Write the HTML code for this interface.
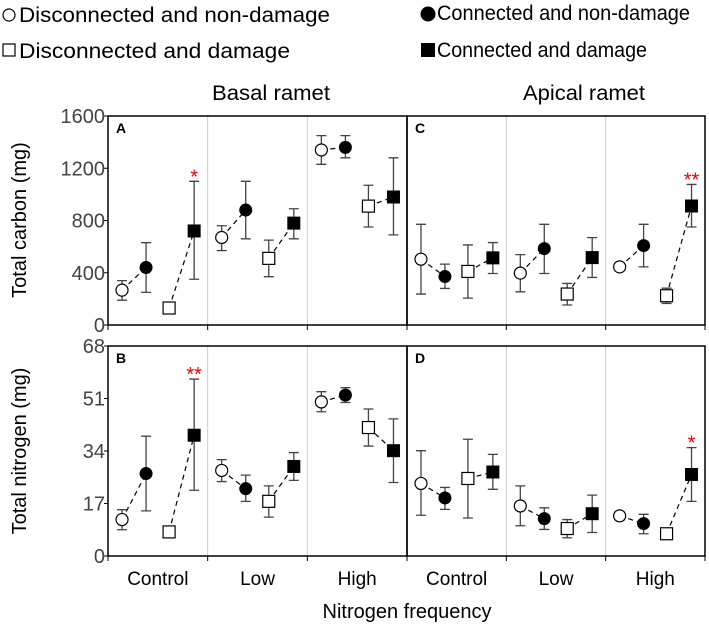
<!DOCTYPE html>
<html><head><meta charset="utf-8"><style>
html,body{margin:0;padding:0;background:#fff}
svg{display:block;font-family:"Liberation Sans",Arial,sans-serif}
</style></head><body>
<svg id="chart" width="709" height="630" viewBox="0 0 709 630" xmlns="http://www.w3.org/2000/svg">
<g font-size="21" fill="#000">
 <circle cx="9" cy="15" r="6" fill="#fff" stroke="#000" stroke-width="1.2"/>
 <text x="19" y="22" textLength="311" lengthAdjust="spacingAndGlyphs">Disconnected and non-damage</text>
 <rect x="3" y="44" width="12" height="12" fill="#fff" stroke="#000" stroke-width="1.2"/>
 <text x="19" y="58" textLength="271" lengthAdjust="spacingAndGlyphs">Disconnected and damage</text>
 <circle cx="428" cy="14" r="7.5" fill="#000"/>
 <text x="437" y="20" textLength="253" lengthAdjust="spacingAndGlyphs">Connected and non-damage</text>
 <rect x="421" y="43" width="14" height="14" fill="#000"/>
 <text x="437" y="57" textLength="210" lengthAdjust="spacingAndGlyphs">Connected and damage</text>
</g>
<text x="271" y="100" font-size="21" text-anchor="middle" textLength="118" lengthAdjust="spacingAndGlyphs">Basal ramet</text>
<text x="584" y="100" font-size="21" text-anchor="middle" textLength="122" lengthAdjust="spacingAndGlyphs">Apical ramet</text>
<text transform="translate(26,220) rotate(-90)" font-size="20" text-anchor="middle">Total carbon (mg)</text>
<text transform="translate(26,451) rotate(-90)" font-size="20" text-anchor="middle">Total nitrogen (mg)</text>
<text x="407" y="618" font-size="20" text-anchor="middle">Nitrogen frequency</text>
<g id="plots"></g>
</svg>
<script>
const categories = ["Control","Low","High"];
const series = ["open-circle","filled-circle","open-square","filled-square"];
const carbonTicks = [0,400,800,1200,1600];
const nitrogenTicks = [0,17,34,51,68];
// Panel A (basal carbon): per category, 4 series
const A_mean = [[267,440,130,720],[670,880,510,780],[1340,1360,910,980]];
const A_lo   = [[190,250,130,350],[570,660,370,660],[1230,1280,750,690]];
const A_hi   = [[340,630,130,1100],[760,1100,650,890],[1450,1450,1070,1280]];
// Panel C (apical carbon)
const C_mean = [[504,371,410,514],[397,585,237,516],[445,608,224,911]];
const C_lo   = [[237,280,206,394],[254,394,153,364],[415,445,165,750]];
const C_hi   = [[771,466,613,631],[539,771,318,669],[478,771,282,1076]];
// Panel B (basal nitrogen)
const B_mean = [[11.8,26.7,7.8,39.1],[27.7,21.8,17.7,29.0],[49.9,52.1,41.6,34.1]];
const B_lo   = [[8.5,14.6,7.8,21.3],[24.1,17.7,12.6,24.5],[46.7,49.7,35.6,23.8]];
const B_hi   = [[15,38.8,7.8,57.3],[31.2,26.2,22.7,33.5],[53.2,54.5,47.6,44.4]];
// Panel D (apical nitrogen)
const D_mean = [[23.5,18.8,25.1,27.2],[16.2,12.1,8.9,13.7],[13.0,10.5,7.2,26.4]];
const D_lo   = [[13.2,15.1,12.3,21.6],[9.8,8.6,5.9,7.6],[11.6,7.2,5.9,17.7]];
const D_hi   = [[34.1,22.2,37.8,32.9],[22.7,15.6,11.8,19.7],[14.3,13.5,8.5,35.1]];
const sig = {A:[0,3,"*"],B:[0,3,"**"],C:[2,3,"**"],D:[2,3,"*"]};

const NS="http://www.w3.org/2000/svg";
const root=document.getElementById('plots');
function mk(t,a,p){const e=document.createElementNS(NS,t);for(const k in a)e.setAttribute(k,a[k]);(p||root).appendChild(e);return e;}
const offsets=[14,38,61,86];
const panels=[
 {id:"A",x0:108,x1:407,y0:116,y1:325,max:1600,ticks:carbonTicks,m:A_mean,lo:A_lo,hi:A_hi,yl:true,xl:false},
 {id:"C",x0:407,x1:705,y0:116,y1:325,max:1600,ticks:carbonTicks,m:C_mean,lo:C_lo,hi:C_hi,yl:false,xl:false},
 {id:"B",x0:108,x1:407,y0:346,y1:556,max:68,ticks:nitrogenTicks,m:B_mean,lo:B_lo,hi:B_hi,yl:true,xl:true},
 {id:"D",x0:407,x1:705,y0:346,y1:556,max:68,ticks:nitrogenTicks,m:D_mean,lo:D_lo,hi:D_hi,yl:false,xl:true}
];
panels.forEach(P=>{
 const g=mk('g',{});
 
 
 const gw=(P.x1-P.x0)/categories.length;
 const ys=v=>P.y1-(v/P.max)*(P.y1-P.y0);
 const xs=(c,s)=>P.x0+c*gw+offsets[s]*gw/99.5;
 for(let c=1;c<categories.length;c++){
  const sep=mk('line',{x1:P.x0+c*gw,x2:P.x0+c*gw,y1:P.y0,y2:P.y1,stroke:'#ccc','stroke-width':1},g);
  
  
 }
 for(let c=0;c<=categories.length;c++){
  mk('line',{x1:P.x0+c*gw,x2:P.x0+c*gw,y1:P.y1,y2:P.y1+5,stroke:'#000','stroke-width':1},g);
 }
 const fr=mk('rect',{x:P.x0,y:P.y0,width:P.x1-P.x0,height:P.y1-P.y0,fill:'none',stroke:'#000','stroke-width':1.5},g);
 
 
 const lab=mk('text',{x:P.x0+8,y:P.y0+17,'font-size':14,'font-weight':'bold'},g);lab.textContent=P.id;
 
 
 if(P.yl){P.ticks.forEach(t=>{
  mk('line',{x1:P.x0-4,x2:P.x0,y1:ys(t),y2:ys(t),stroke:'#000'},g);
  const tx=mk('text',{x:P.x0-3,y:ys(t)+7,'font-size':20,'text-anchor':'end',fill:'#444'},g);tx.textContent=t;
  
  
 });}
 if(P.xl){categories.forEach((c,i)=>{
  const tx=mk('text',{x:P.x0+(i+0.5)*gw,y:585,'font-size':19,'text-anchor':'middle'},g);tx.textContent=c;
  
  
 });}
 categories.forEach((c,ci)=>{
  [[0,1],[2,3]].forEach(([a,b])=>{
   const l=mk('line',{x1:xs(ci,a),y1:ys(P.m[ci][a]),x2:xs(ci,b),y2:ys(P.m[ci][b]),stroke:'#000','stroke-width':1.2,'stroke-dasharray':'5,4'},g);
   
   
  });
  series.forEach((s,si)=>{
   const x=xs(ci,si),lo=ys(P.lo[ci][si]),hi=ys(P.hi[ci][si]);
   if(Math.abs(lo-hi)>1){
    const eb=mk('path',{d:`M${x},${lo}V${hi}M${x-5},${lo}H${x+5}M${x-5},${hi}H${x+5}`,stroke:'#444','stroke-width':1.3,fill:'none'},g);
    
    
   }
   const y=ys(P.m[ci][si]);let mkr;
   if(si===0)mkr=mk('circle',{cx:x,cy:y,r:6,fill:'#fff',stroke:'#000','stroke-width':1.2},g);
   else if(si===1)mkr=mk('circle',{cx:x,cy:y,r:6.5,fill:'#000'},g);
   else if(si===2)mkr=mk('rect',{x:x-6,y:y-6,width:12,height:12,fill:'#fff',stroke:'#000','stroke-width':1.2},g);
   else mkr=mk('rect',{x:x-6.5,y:y-6.5,width:13,height:13,fill:'#000'},g);
   
   
  });
 });
 const [sc,ss,st]=sig[P.id];
 const sx=xs(sc,ss),sy=ys(P.hi[sc][ss])-6;
 const star=mk('text',{x:sx,y:sy+8,'font-size':20,'text-anchor':'middle',fill:'#e00'},g);star.textContent=st;
 
 
});
</script>
</body></html>
